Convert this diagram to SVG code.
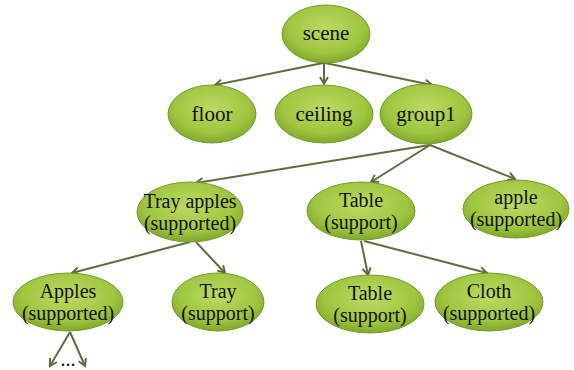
<svg xmlns="http://www.w3.org/2000/svg" width="574" height="370" viewBox="0 0 574 370">
<style>
.n ellipse{fill:url(#g);stroke:#7a9a2e;stroke-width:1}
.n text{font-family:"Liberation Serif","Times New Roman",serif;font-size:20px;fill:#111;text-anchor:middle}
.n text.s{font-size:21px}
.e line{stroke:#5d6e3e;stroke-width:2;marker-end:url(#a)}
</style>
<defs>
<radialGradient id="g" cx="0.5" cy="0.4" r="0.6">
<stop offset="0" stop-color="#bcdb62"/>
<stop offset="0.7" stop-color="#9fc640"/>
<stop offset="1" stop-color="#80a82c"/>
</radialGradient>
<marker id="a" markerWidth="10" markerHeight="10" refX="8" refY="5" orient="auto" markerUnits="userSpaceOnUse">
<path d="M1,1 L8,5 L1,9" fill="none" stroke="#5d6e3e" stroke-width="2"/>
</marker>
</defs>
<g class="e">
<line x1="323" y1="63" x2="215" y2="85"/>
<line x1="324" y1="63" x2="324" y2="84"/>
<line x1="325" y1="63" x2="432" y2="85"/>
<line x1="430" y1="145" x2="196" y2="183"/>
<line x1="430" y1="145" x2="371" y2="182"/>
<line x1="430" y1="145" x2="515" y2="179"/>
<line x1="190" y1="242" x2="72" y2="273"/>
<line x1="196" y1="242" x2="225" y2="273"/>
<line x1="361" y1="241" x2="368" y2="275"/>
<line x1="364" y1="241" x2="487" y2="273"/>
<line x1="70" y1="332" x2="50" y2="366"/>
<line x1="70" y1="332" x2="85" y2="366"/>
</g>
<g id="scene" class="n"><ellipse cx="326" cy="34" rx="44" ry="29"/><text class="s" x="326" y="40">scene</text></g>
<g id="floor" class="n"><ellipse cx="212" cy="114" rx="44" ry="29"/><text class="s" x="212" y="121">floor</text></g>
<g id="ceiling" class="n"><ellipse cx="324" cy="114" rx="49" ry="29"/><text class="s" x="324" y="121">ceiling</text></g>
<g id="group1" class="n"><ellipse cx="426" cy="114" rx="46" ry="30"/><text class="s" x="426" y="121">group1</text></g>
<g id="trayapples" class="n"><ellipse cx="190" cy="212" rx="53" ry="30"/><text x="190" y="208">Tray apples</text><text x="190" y="230">(supported)</text></g>
<g id="table1" class="n"><ellipse cx="361" cy="211" rx="54" ry="29"/><text x="361" y="207">Table</text><text x="361" y="229">(support)</text></g>
<g id="apple" class="n"><ellipse cx="516" cy="209" rx="53" ry="29"/><text x="516" y="204">apple</text><text x="516" y="226">(supported)</text></g>
<g id="apples" class="n"><ellipse cx="68" cy="302" rx="55" ry="29"/><text x="68" y="298">Apples</text><text x="68" y="320">(supported)</text></g>
<g id="tray" class="n"><ellipse cx="218" cy="302" rx="46" ry="29"/><text x="218" y="298">Tray</text><text x="218" y="320">(support)</text></g>
<g id="table2" class="n"><ellipse cx="370" cy="304" rx="54" ry="29"/><text x="370" y="300">Table</text><text x="370" y="322">(support)</text></g>
<g id="cloth" class="n"><ellipse cx="489" cy="302" rx="54" ry="29"/><text x="489" y="298">Cloth</text><text x="489" y="320">(supported)</text></g>
<text x="68" y="366" style="font-family:'Liberation Serif',serif;font-size:20px;text-anchor:middle;fill:#111">...</text>
</svg>
